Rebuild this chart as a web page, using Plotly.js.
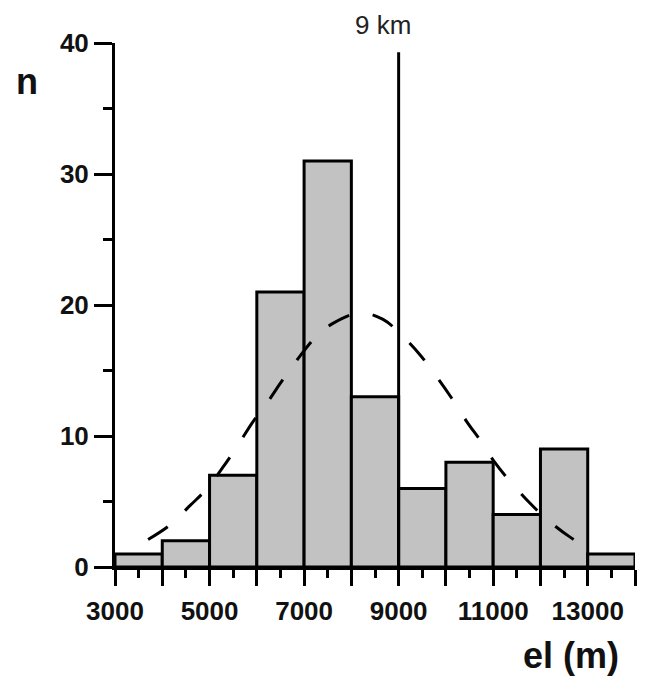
<!DOCTYPE html>
<html>
<head>
<meta charset="utf-8">
<script src="https://cdn.plot.ly/plotly-3.0.1.min.js"></script>
<style>html,body{margin:0;padding:0;background:#fff;}#chart{width:652px;height:680px;}</style>
</head>
<body>
<div id="chart"></div>
<script>
// Histogram bins (lower edges, m) and counts
const binStart = [3000, 4000, 5000, 6000, 7000, 8000, 9000, 10000, 11000, 12000, 13000];
const binWidth = 1000;
const counts = [1, 2, 7, 21, 31, 13, 6, 8, 4, 9, 1];

// Dashed fitted curve
const curveX = [3700, 4160, 4590, 4950, 5280, 5600, 5920, 6210, 6550, 6850, 7230, 7610, 8180, 8670, 9090, 9450, 9810, 10120, 10440, 10760, 11030, 11390, 11770, 12150, 12620, 13040];
const curveY = [2.1, 3.2, 4.7, 6.0, 7.6, 9.3, 11.1, 12.5, 14.3, 15.8, 17.5, 18.6, 19.4, 18.9, 17.6, 16.2, 14.5, 12.9, 11.1, 9.5, 8.0, 6.4, 4.9, 3.6, 2.3, 1.4];

// Reference marker line at 9 km
const refX = [9000, 9000];
const refY = [0, 39.3];
const refLabel = "9 km";

// Axis ticks
const xTickVals = [3000, 4000, 5000, 6000, 7000, 8000, 9000, 10000, 11000, 12000, 13000, 14000];
const xTickText = ["3000", "", "5000", "", "7000", "", "9000", "", "11000", "", "13000", ""];
const yTickVals = [0, 10, 20, 30, 40];
const yTickText = ["0", "10", "20", "30", "40"];
const xTitle = "el (m)";
const yTitle = "n";

const traces = [
  {
    type: 'bar',
    x: binStart,
    y: counts,
    width: binStart.map(() => binWidth),
    offset: 0,
    marker: {color: '#c2c2c2', line: {color: '#000', width: 3}},
    hoverinfo: 'x+y'
  },
  {
    type: 'scatter',
    mode: 'lines',
    x: curveX,
    y: curveY,
    line: {color: '#000', width: 3, dash: '23px,24px', shape: 'spline'}
  },
  {
    type: 'scatter',
    mode: 'lines',
    x: refX,
    y: refY,
    line: {color: '#000', width: 3}
  }
];

const tickFont = {family: 'Liberation Sans, Arial, sans-serif', size: 26, color: '#111', weight: 'bold'};

const layout = {
  width: 652,
  height: 680,
  margin: {l: 115, r: 17, t: 43, b: 113},
  paper_bgcolor: '#fff',
  plot_bgcolor: '#fff',
  showlegend: false,
  bargap: 0,
  xaxis: {
    range: [3000, 14000],
    tickmode: 'array',
    tickvals: xTickVals,
    ticktext: xTickText,
    ticks: 'outside',
    ticklen: 16,
    tickwidth: 3,
    tickcolor: '#000',
    showline: true,
    linecolor: '#000',
    linewidth: 3,
    showgrid: false,
    zeroline: false,
    tickfont: tickFont,
    ticklabelstandoff: 3,
    minor: {tickmode: 'linear', tick0: 3500, dtick: 1000, ticks: 'outside', ticklen: 8, tickwidth: 3, tickcolor: '#000', showgrid: false}
  },
  yaxis: {
    range: [0, 40],
    tickmode: 'array',
    tickvals: yTickVals,
    ticktext: yTickText,
    ticks: 'outside',
    ticklen: 18,
    tickwidth: 3,
    tickcolor: '#000',
    showline: true,
    linecolor: '#000',
    linewidth: 3,
    showgrid: false,
    zeroline: false,
    tickfont: tickFont,
    minor: {tickmode: 'linear', tick0: 5, dtick: 10, ticks: 'outside', ticklen: 9, tickwidth: 3, tickcolor: '#000', showgrid: false}
  },
  annotations: [
    {
      text: refLabel, xref: 'x', yref: 'paper', x: refX[0], y: 1.035, xshift: -16,
      xanchor: 'center', yanchor: 'middle', showarrow: false,
      font: {family: 'Liberation Sans, Arial, sans-serif', size: 26, color: '#222'}
    },
    {
      text: yTitle, xref: 'paper', yref: 'paper', x: -0.169, y: 0.926,
      xanchor: 'center', yanchor: 'middle', showarrow: false,
      font: {family: 'Liberation Sans, Arial, sans-serif', size: 36, color: '#111', weight: 'bold'}
    },
    {
      text: xTitle, xref: 'paper', yref: 'paper', x: 0.877, y: -0.168,
      xanchor: 'center', yanchor: 'middle', showarrow: false,
      font: {family: 'Liberation Sans, Arial, sans-serif', size: 36, color: '#111', weight: 'bold'}
    }
  ]
};

Plotly.newPlot('chart', traces, layout, {displayModeBar: false, staticPlot: true});
</script>
</body>
</html>
